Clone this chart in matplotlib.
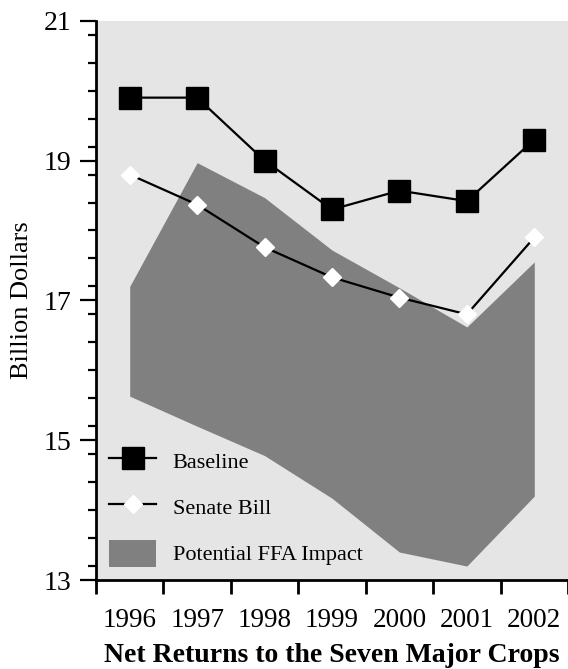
"""
Net returns to the seven major crops: baseline vs. Senate bill.
"""

import matplotlib.pyplot as plt
import numpy as np
from matplotlib.patches import Patch
from matplotlib.ticker import FixedLocator, MultipleLocator

years = ["1996", "1997", "1998", "1999", "2000", "2001", "2002"]
baseline = [19.9, 19.9, 19.0, 18.3, 18.57, 18.42, 19.3]
senate_bill = [18.8, 18.37, 17.76, 17.33, 17.04, 16.8, 17.9]
ffa_upper = [17.2, 18.97, 18.47, 17.72, 17.18, 16.62, 17.55]
ffa_lower = [15.63, 15.2, 14.78, 14.17, 13.4, 13.2, 14.2]

plt.rcParams["font.family"] = ["Liberation Serif", "DejaVu Serif"]

fig = plt.figure(figsize=(5.68, 6.69), dpi=100)
ax = fig.add_axes([0.169, 0.133, 0.831, 0.836])
ax.set_facecolor("#e5e5e5")

x = np.arange(len(years)) + 0.5

ax.fill_between(x, ffa_lower, ffa_upper, color="#808080", linewidth=0, zorder=1)
ax.plot(x, baseline, color="black", linewidth=1.6, marker="s", markersize=16,
        markerfacecolor="black", markeredgecolor="black", zorder=3)
ax.plot(x, senate_bill, color="black", linewidth=1.6, marker="D", markersize=9.5,
        markerfacecolor="white", markeredgecolor="white", zorder=3)

ax.set_xlim(0, len(years))
ax.set_ylim(13, 21)

ax.xaxis.set_major_locator(FixedLocator(np.arange(len(years) + 1)))
ax.xaxis.set_minor_locator(FixedLocator(x))
ax.set_xticklabels([])
ax.set_xticklabels(years, minor=True)
ax.tick_params(axis="x", which="major", direction="out", length=10, width=2)
ax.tick_params(axis="x", which="minor", length=0, pad=20, labelsize=19.5)

ax.yaxis.set_major_locator(FixedLocator([13, 15, 17, 19, 21]))
ax.yaxis.set_minor_locator(MultipleLocator(0.4))
ax.tick_params(axis="y", which="major", direction="out", length=11.5, width=1.6,
               pad=6, labelsize=20)
ax.tick_params(axis="y", which="minor", direction="out", length=6, width=1.6)

for side in ("top", "right"):
    ax.spines[side].set_visible(False)
for side in ("left", "bottom"):
    ax.spines[side].set_linewidth(2)

ax.set_ylabel("Billion Dollars", fontsize=19, labelpad=8)
ax.set_xlabel("Net Returns to the Seven Major Crops", fontsize=20,
              fontweight="bold", labelpad=7)

handles = [
    plt.Line2D([], [], color="black", linewidth=1.6, marker="s", markersize=16),
    plt.Line2D([], [], color="black", linewidth=1.6, marker="D", markersize=9.5,
               markerfacecolor="white", markeredgecolor="white"),
    Patch(facecolor="#808080", edgecolor="none"),
]
ax.legend(handles, ["Baseline", "Senate Bill", "Potential FFA Impact"],
          loc="lower left", bbox_to_anchor=(0.0, 0.0), frameon=False,
          fontsize=16, handlelength=2.1, handleheight=1.5, labelspacing=0.85,
          handletextpad=0.75, borderaxespad=0.2)

fig.savefig("out.png", dpi=100)
